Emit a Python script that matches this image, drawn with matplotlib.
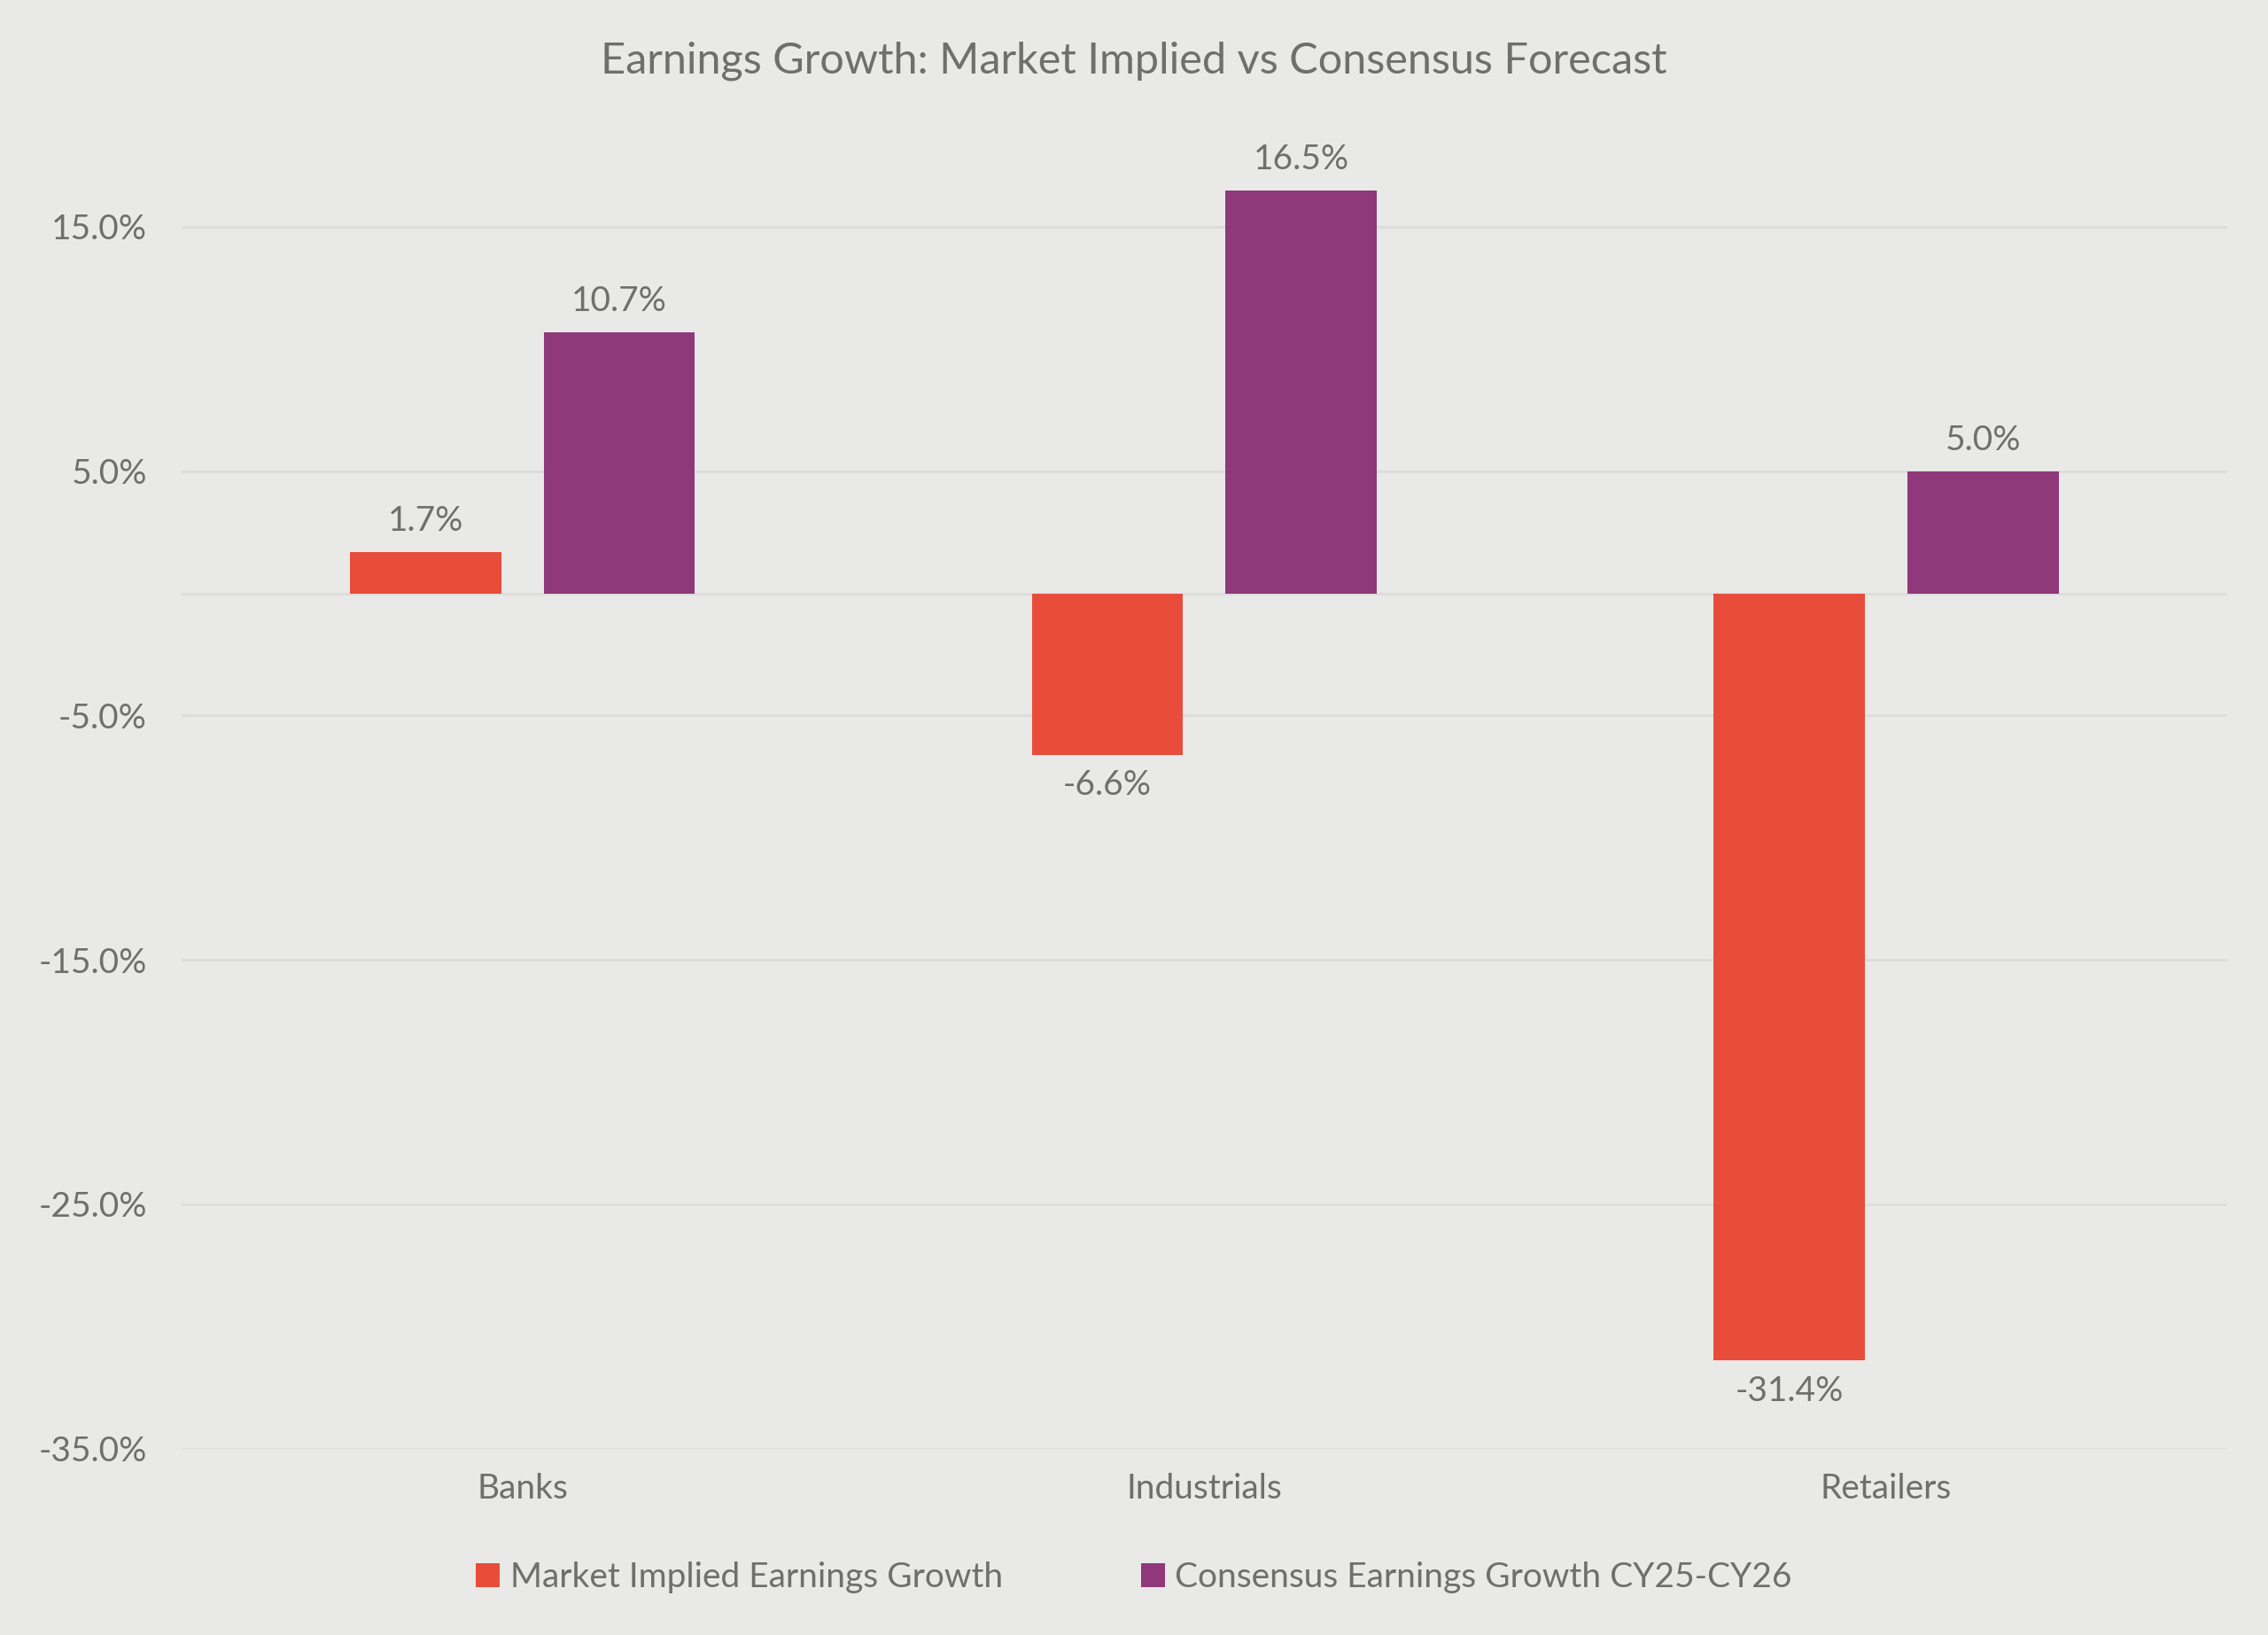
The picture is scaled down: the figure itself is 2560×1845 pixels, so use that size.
import matplotlib
matplotlib.use("Agg")
import matplotlib.pyplot as plt
import numpy as np
from matplotlib.ticker import FuncFormatter

categories = ["Banks", "Industrials", "Retailers"]
market_implied = [1.7, -6.6, -31.4]
consensus = [10.7, 16.5, 5.0]
series_names = ["Market Implied Earnings Growth", "Consensus Earnings Growth CY25-CY26"]
yticks = [15, 5, -5, -15, -25, -35]

plt.rcParams['font.family'] = ['Lato', 'DejaVu Sans']
bg = "#e9e9e7"
tc = "#6f6f6f"
red = "#e84c3a"
purple = "#8f387a"

fig = plt.figure(figsize=(12.8, 9.225), dpi=200, facecolor=bg)
ax = fig.add_axes([0.08, 0.114, 0.902, 0.822], facecolor=bg)
x = np.arange(len(categories))
w = 0.222
b1 = ax.bar(x - 0.142, market_implied, w, color=red, label=series_names[0], zorder=3)
b2 = ax.bar(x + 0.142, consensus, w, color=purple, label=series_names[1], zorder=3)
for bars in (b1, b2):
    for r in bars:
        v = r.get_height()
        yy = v + (0.6 if v >= 0 else -0.6)
        ax.text(r.get_x() + r.get_width()/2, yy, f"{v:.1f}%", ha="center",
                va="bottom" if v >= 0 else "top", fontsize=14, color=tc)
ax.set_xlim(-0.5, 2.5)
ax.set_ylim(-35, 20)
ax.set_yticks(yticks)
ax.yaxis.set_major_formatter(FuncFormatter(lambda v, p: f"{v:.1f}%"))
ax.set_xticks(x)
ax.set_xticklabels(categories)
ax.tick_params(length=0, labelsize=14, colors=tc, pad=10)
ax.tick_params(axis='y', pad=14)
ax.grid(axis='y', color="#dcdcda", lw=1, zorder=0)
ax.axhline(0, color="#dcdcda", lw=1, zorder=1)
for s in ax.spines.values():
    s.set_visible(False)
fig.suptitle("Earnings Growth: Market Implied vs Consensus Forecast", y=0.975,
             fontsize=17.5, color=tc)
fig.legend(loc="center", bbox_to_anchor=(0.5, 0.035), ncol=2, frameon=False,
           fontsize=14, labelcolor=tc, handlelength=0.7, handleheight=0.7,
           handletextpad=0.3, columnspacing=4)
fig.savefig("out.png", facecolor=bg)
